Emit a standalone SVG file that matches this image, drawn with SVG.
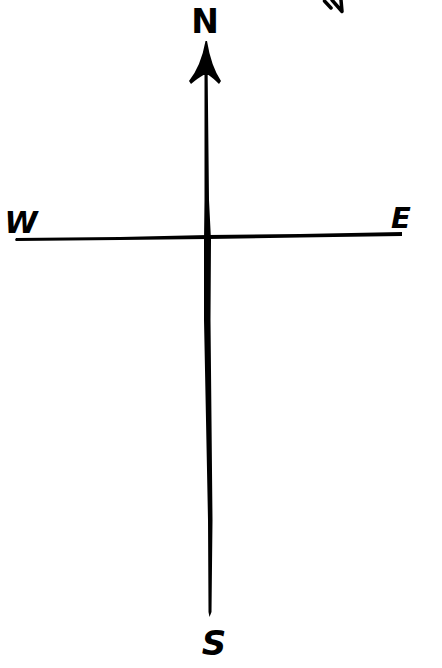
<svg xmlns="http://www.w3.org/2000/svg" width="442" height="668" viewBox="0 0 442 668">
<style>
.lbl{font-family:"DejaVu Sans","Liberation Sans",sans-serif;font-weight:bold;fill:#000;text-anchor:middle}
.ink{fill:#000;stroke:none}
</style>
<rect width="442" height="668" fill="#fff"/>
<g id="connectors">
<path id="ns-line" class="ink" d="M204.5,60 L207.5,60 L209,200 L211,240 L210.5,320 L212.5,520 L211.5,612 L209.5,617 L208.5,612 L208,520 L204,320 L204,240 L204.5,200 Z"/>
<path id="ns-arrowhead" class="ink" d="M205.5,41 L207,41 Q211,66 221,81 L219,84 Q213,78 208.5,75 L203.5,75 Q198,78 191,84 L189,81 Q201,66 205.5,41 Z"/>
<path id="we-line" class="ink" d="M15,240 L16,238 L120,237 L208,235 L300,234 L402,232 L402,236 L300,237.5 L208,239 L120,240 L16,241 Z"/>
<path id="corner-fragment" fill="none" stroke="#000" stroke-width="3.5" stroke-linecap="round" stroke-linejoin="round" d="M324.5,1 L331,8 M332,0 L342,11.5 L341,0"/>
</g>
<g id="node-N"><text class="lbl" x="205" y="33" font-size="33">N</text></g>
<g id="node-W"><text class="lbl" x="21" y="233" font-size="30" font-style="italic">W</text></g>
<g id="node-E"><text class="lbl" x="401" y="228" font-size="29" font-style="italic">E</text></g>
<g id="node-S"><text class="lbl" x="214" y="655" font-size="34" font-style="italic">S</text></g>
</svg>
